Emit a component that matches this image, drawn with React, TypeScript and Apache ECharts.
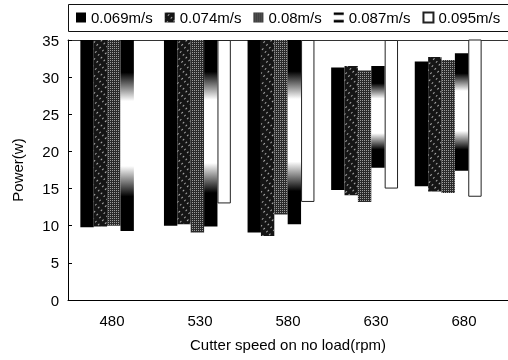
import React, { useEffect, useRef } from "react";
import * as echarts from "echarts";

const categories = ["480", "530", "580", "630", "680"];
const seriesNames = ["0.069m/s", "0.074m/s", "0.08m/s", "0.087m/s", "0.095m/s"];
// bottom and top of each floating bar (tops above 35 are clipped by the axis)
const low1 = [9.8, 10.0, 9.1, 14.8, 15.3];
const high1 = [38, 38, 38, 31.3, 32.1];
const low2 = [9.9, 10.2, 8.6, 14.1, 14.6];
const high2 = [38, 38, 38, 31.5, 32.7];
const low3 = [10.0, 9.1, 11.5, 13.2, 14.4];
const high3 = [38, 38, 38, 30.9, 32.3];
const low4 = [9.3, 9.9, 10.2, 17.8, 17.4];
const high4 = [38, 38, 38, 31.5, 33.2];
const low5 = [null, 13.0, 13.2, 15.0, 13.9];
const high5 = [null, 35, 35, 35, 35.3];
const yTicks = { min: 0, max: 35, interval: 5 };

const lows = [low1, low2, low3, low4, low5];
const highs = [high1, high2, high3, high4, high5];

const FONT = "Liberation Sans, Arial, sans-serif";

const styles: any[] = [
  { color: "#000" },
  {
    color: "#151515",
    decal: {
      symbol: "rect",
      color: "rgba(210,210,210,0.8)",
      dashArrayX: [2, 4],
      dashArrayY: [1, 3],
      rotation: -Math.PI / 4,
      symbolSize: 1,
    },
  },
  {
    color: "#2a2a2a",
    decal: {
      symbol: "rect",
      color: "rgba(170,170,170,0.9)",
      dashArrayX: [1, 1],
      dashArrayY: [1, 1],
      rotation: 0,
      symbolSize: 1,
    },
  },
  {
    color: {
      type: "linear",
      x: 0,
      y: 0,
      x2: 0,
      y2: 1,
      colorStops: [
        { offset: 0, color: "#000" },
        { offset: 0.17, color: "#000" },
        { offset: 0.32, color: "#fff" },
        { offset: 0.66, color: "#fff" },
        { offset: 0.82, color: "#000" },
        { offset: 1, color: "#000" },
      ],
    },
  },
  { color: "#fff", borderColor: "#222", borderWidth: 1 },
];

export default function App() {
  const ref = useRef<HTMLDivElement>(null);
  useEffect(() => {
    if (!ref.current) return;
    const chart = echarts.init(ref.current, null, { renderer: "svg" });
    const series: any[] = [];
    lows.forEach((low, i) => {
      const high = highs[i];
      series.push({
        name: "base" + i,
        type: "bar",
        xAxisIndex: 0,
        yAxisIndex: 0,
        stack: "s" + i,
        silent: true,
        itemStyle: { color: "transparent" },
        data: low,
        barGap: "0%",
        barCategoryGap: "20%",
      });
      series.push({
        name: seriesNames[i],
        type: "bar",
        xAxisIndex: 0,
        yAxisIndex: 0,
        stack: "s" + i,
        itemStyle: styles[i],
        data: low.map((l, j) =>
          l == null || high[j] == null ? null : +((high[j] as number) - (l as number)).toFixed(2)
        ),
        barGap: "0%",
        barCategoryGap: "20%",
      });
    });
    chart.setOption({
      animation: false,
      textStyle: { fontFamily: FONT },
      graphic: [
        {
          type: "rect",
          shape: { x: 68.5, y: 4.5, width: 450, height: 27 },
          style: { fill: "#fff", stroke: "#111", lineWidth: 1 },
          z: 0,
        },
      ],
      legend: {
        data: seriesNames,
        left: 76,
        top: 10,
        padding: 0,
        itemGap: 12,
        itemWidth: 10,
        itemHeight: 10,
        icon: "rect",
        textStyle: { fontSize: 15, color: "#000", fontFamily: FONT },
        z: 5,
      },
      grid: [
        { left: 72, width: 418, top: 40, bottom: 60 },
        { left: 68, right: 0, top: 40, bottom: 60 },
      ],
      xAxis: [
        { type: "category", gridIndex: 0, data: categories, show: false },
        {
          type: "category",
          gridIndex: 1,
          data: categories,
          boundaryGap: true,
          axisLine: { lineStyle: { color: "#000", width: 1 } },
          axisTick: { inside: true, length: 4, lineStyle: { color: "#000" } },
          axisLabel: { fontSize: 15, color: "#000", margin: 13, fontFamily: FONT },
          name: "Cutter speed on no load(rpm)",
          nameLocation: "middle",
          nameGap: 37,
          nameTextStyle: { fontSize: 15, color: "#000", fontFamily: FONT },
        },
        {
          type: "category",
          gridIndex: 1,
          position: "top",
          data: categories,
          axisLine: { lineStyle: { color: "#333", width: 1 } },
          axisTick: { show: false },
          axisLabel: { show: false },
        },
      ],
      yAxis: [
        { type: "value", gridIndex: 0, ...yTicks, show: false },
        {
          type: "value",
          gridIndex: 1,
          ...yTicks,
          splitLine: { show: false },
          axisLine: { show: true, lineStyle: { color: "#000", width: 1 } },
          axisTick: { show: true, inside: true, length: 4, lineStyle: { color: "#000" } },
          axisLabel: { fontSize: 15, color: "#000", margin: 9, fontFamily: FONT },
          name: "Power(w)",
          nameLocation: "middle",
          nameGap: 43,
          nameTextStyle: { fontSize: 15, color: "#000", fontFamily: FONT },
        },
      ],
      series,
    });
    return () => chart.dispose();
  }, []);
  return (
    <div
      ref={ref}
      style={{ position: "fixed", left: 0, top: 0, width: 508, height: 360 }}
    />
  );
}
